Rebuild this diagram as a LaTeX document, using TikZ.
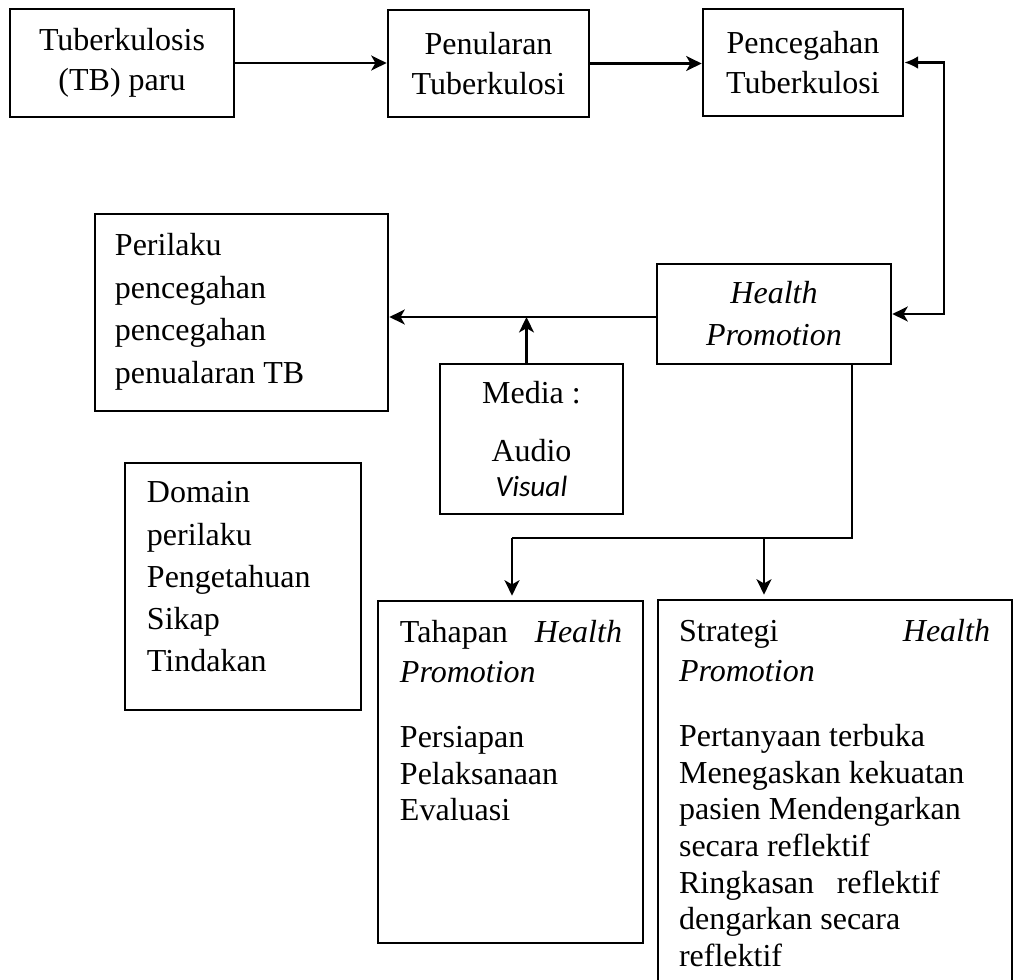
\documentclass[tikz,border=0pt]{standalone}
\usepackage{fontspec}
\setmainfont{Liberation Serif}
\newfontfamily\carlito{Carlito}
\usetikzlibrary{arrows.meta,calc}
\tikzset{
  frame/.style={draw, line width=1pt, inner sep=0pt},
  cbox/.style={frame, align=center, font=\fontsize{12}{15}\selectfont},
  line/.style={line width=0.8pt},
  conn/.style={line width=0.8pt, -{Stealth[length=5.8pt,width=5.6pt,inset=1.6pt]}},
}
\begin{document}
\begin{tikzpicture}[x=0.375pt,y=-0.375pt]
\useasboundingbox (0,0) rectangle (1013,980);
% top row
\node[cbox, minimum width=84pt, minimum height=40.5pt] (tb) at (122,63) {Tuberkulosis\\(TB) paru};
\node[cbox, minimum width=75.375pt, minimum height=40.125pt] (pen) at (488.5,63.5) {Penularan\\Tuberkulosi};
\node[cbox, minimum width=75pt, minimum height=40.125pt] (pcg) at (803,62.5) {Pencegahan\\Tuberkulosi};
% health promotion
\node[cbox, font=\fontsize{12}{15.75}\selectfont\itshape, minimum width=87.75pt, minimum height=37.5pt] (hp) at (774,314) {Health\\Promotion};
% media
\node[cbox, minimum width=68.625pt, minimum height=56.25pt] (med) at (531.5,439) {Media :\\[6.75pt]Audio\\[-1.9pt]{\carlito\itshape\fontsize{11}{13}\selectfont Visual}};
% perilaku
\node[frame] (per) at (241.5,312.5) {\begin{minipage}[c][73.875pt][t]{109.875pt}\raggedright\leftskip=7.5pt\fontsize{12}{16}\selectfont\vspace*{7.2pt}Perilaku\\pencegahan\\pencegahan\\penualaran TB\end{minipage}};
% domain
\node[frame] (dom) at (243,586.5) {\begin{minipage}[c][92.625pt][t]{88.5pt}\raggedright\leftskip=8.25pt\fontsize{12}{15.85}\selectfont\vspace*{7pt}Domain\\perilaku\\Pengetahuan\\Sikap\\Tindakan\end{minipage}};
% tahapan
\node[frame] (tah) at (510.5,772) {\begin{minipage}[c][128.25pt][t]{99.375pt}\raggedright\leftskip=8.25pt\fontsize{12}{13.75}\selectfont\vspace*{7.2pt}\makebox[83.25pt][l]{Tahapan\hfill\textit{Health}}\\[1.25pt]\textit{Promotion}\\[10.65pt]Persiapan\\Pelaksanaan\\Evaluasi\end{minipage}};
% strategi
\node[frame] (str) at (835,791) {\begin{minipage}[c][143.25pt][t]{132.75pt}\raggedright\leftskip=7.9pt\fontsize{12}{13.75}\selectfont\vspace*{7.2pt}\makebox[116.6pt][l]{Strategi\hfill\textit{Health}}\\[1.25pt]\textit{Promotion}\\[10.65pt]Pertanyaan terbuka\\Menegaskan kekuatan\\pasien Mendengarkan\\secara reflektif\\Ringkasan\hspace{8.5pt}reflektif\\dengarkan secara\\reflektif\end{minipage}};
% connectors
\draw[conn] (tb.east) -- (tb.east -| pen.west);
\draw[conn] (pen.east) -- (pen.east -| pcg.west);
\coordinate (rc) at (944,62.5);
\draw[line, {Latex[length=5.2pt,width=4.8pt]}-{Stealth[length=5.8pt,width=5.6pt,inset=1.6pt]}] (pcg.east) -- (pcg.east -| rc) |- (hp.east);
\coordinate (hpw) at ($(hp.west)+(0,3)$);
\draw[conn] (hpw) -- (hpw -| per.east);
\coordinate (mt) at ($(med.north)+(-5,0)$);
\draw[conn] (mt) -- (mt |- hpw);
\coordinate (hpb) at ($(hp.south)+(78,0)$);
\coordinate (busL) at (512,538);
\coordinate (busM) at (764,538);
\draw[line] (hpb) -- (hpb |- busL) -- (busL);
\draw[conn, shorten >=1.5pt] (busL) -- (busL |- tah.north);
\draw[conn, shorten >=1.5pt] (busM) -- (busM |- str.north);
\end{tikzpicture}
\end{document}
